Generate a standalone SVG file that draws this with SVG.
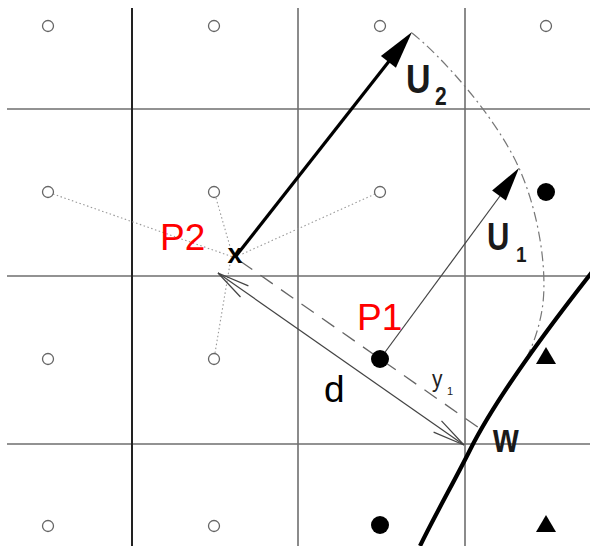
<svg xmlns="http://www.w3.org/2000/svg" width="590" height="546" viewBox="0 0 590 546">
<style>
.grid{stroke:#6e6e6e;stroke-width:1.6;fill:none}
.gridd{stroke:#222;stroke-width:2;fill:none}
.oc{fill:#fff;stroke:#666;stroke-width:1.3}
.fd{fill:#000}
.dot{stroke:#999;stroke-width:1.1;stroke-dasharray:1.5 2.5;fill:none}
.thin{stroke:#444;stroke-width:1.2;fill:none}
.lbl{font-family:"Liberation Sans",Arial,sans-serif}
.red{fill:#ff0000;font-size:37px}
.bk{fill:#1a1a1a;font-weight:bold}
</style>
<rect width="590" height="546" fill="#fff"/>
<g id="grid">
<line class="grid" x1="7" y1="109" x2="590" y2="109"/>
<line class="grid" x1="7" y1="276" x2="590" y2="276"/>
<line class="grid" x1="7" y1="444" x2="590" y2="444"/>
<line class="gridd" x1="132" y1="8" x2="132" y2="546"/>
<line class="grid" x1="298" y1="8" x2="298" y2="546"/>
<line class="grid" x1="465" y1="8" x2="465" y2="546"/>
</g>
<g id="connectors">
<line class="dot" x1="53" y1="194" x2="233" y2="257"/>
<line class="dot" x1="216" y1="198" x2="231" y2="250"/>
<line class="dot" x1="375" y1="194" x2="240" y2="255"/>
<line class="dot" x1="215" y1="353" x2="230" y2="264"/>
<path d="M412,33 C440,55 495,115 519,168 C540,215 548,275 542,310 C537,340 525,365 508,388" fill="none" stroke="#777" stroke-width="1.2" stroke-dasharray="10 4 2 4"/>
<line x1="240" y1="261" x2="482" y2="430" stroke="#666" stroke-width="1.3" stroke-dasharray="15 10"/>
<g id="d-arrow" class="thin">
<line x1="218" y1="273" x2="464" y2="445"/>
<polyline points="240.5,297 218,273 248.4,285.9"/>
<polyline points="441.5,420.9 464,445 433.6,432.1"/>
</g>
<g id="u1-arrow">
<line class="thin" x1="380" y1="359" x2="500" y2="196"/>
<polygon points="519,168 505.9,200.5 492.1,190.5" fill="#000"/>
</g>
<g id="u2-arrow">
<line x1="236" y1="256" x2="390" y2="60" stroke="#000" stroke-width="3.2"/>
<polygon points="412,32 395.9,67.7 380.9,55.9" fill="#000"/>
</g>
<path d="M592,272 C570,300 500,390 470,450 C455,480 435,515 420,546" fill="none" stroke="#000" stroke-width="4.2"/>
</g>
<g id="open-points">
<circle class="oc" cx="48" cy="26" r="5.5"/>
<circle class="oc" cx="214" cy="26" r="5.5"/>
<circle class="oc" cx="380" cy="26" r="5.5"/>
<circle class="oc" cx="546" cy="26" r="5.5"/>
<circle class="oc" cx="48" cy="192" r="5.5"/>
<circle class="oc" cx="214" cy="192" r="5.5"/>
<circle class="oc" cx="380" cy="192" r="5.5"/>
<circle class="oc" cx="48" cy="359" r="5.5"/>
<circle class="oc" cx="214" cy="359" r="5.5"/>
<circle class="oc" cx="48" cy="526" r="5.5"/>
<circle class="oc" cx="214" cy="526" r="5.5"/>
</g>
<g id="filled-points">
<circle class="fd" cx="546" cy="192" r="9"/>
<circle id="P1" class="fd" cx="380" cy="359" r="9"/>
<circle class="fd" cx="380" cy="525" r="9"/>
<polygon class="fd" points="546,347 556,364 536,364"/>
<polygon class="fd" points="546,515 556,532 536,532"/>
</g>
<g id="P2">
<text class="lbl" x="235" y="263" font-size="27" font-weight="bold" text-anchor="middle" fill="#000">x</text>
</g>
<g id="labels" class="lbl">
<text class="red" x="160" y="250">P2</text>
<text class="red" x="357" y="330">P1</text>
<text x="324" y="402" font-size="37" fill="#000">d</text>
<text class="bk" transform="translate(406,93) scale(1,1.2)" font-size="34">U</text>
<text class="bk" transform="translate(435,105) scale(1,1.2)" font-size="21">2</text>
<text class="bk" transform="translate(487,250) scale(1,1.27)" font-size="31">U</text>
<text class="bk" transform="translate(516,262) scale(1,1.2)" font-size="19">1</text>
<text transform="translate(432,387) scale(1,1.1)" font-size="21" fill="#222">y</text>
<text x="447" y="395" font-size="11" fill="#222">1</text>
<text class="bk" transform="translate(493,452) scale(1,1.25)" font-size="33">w</text>
</g>
</svg>
